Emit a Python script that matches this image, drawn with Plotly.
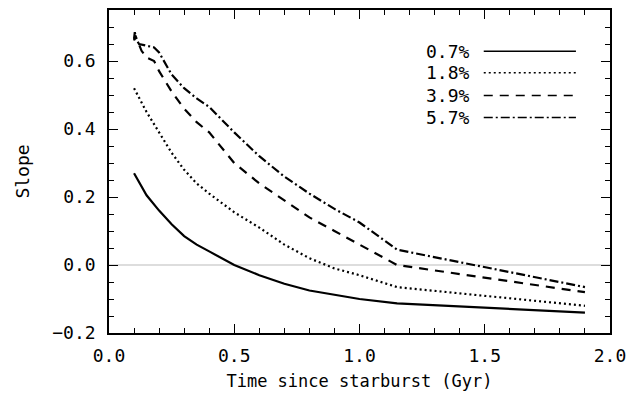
import plotly.graph_objects as go

# Data: time since starburst (Gyr) and slope for each burst fraction
t_07 = [0.10, 0.15, 0.20, 0.25, 0.30, 0.35, 0.40, 0.45, 0.50, 0.60, 0.70, 0.80, 0.90, 1.00, 1.15, 1.90]
s_07 = [0.27, 0.205, 0.16, 0.12, 0.085, 0.06, 0.04, 0.02, 0.0, -0.03, -0.055, -0.075, -0.088, -0.10, -0.113, -0.14]

t_18 = [0.10, 0.15, 0.20, 0.25, 0.30, 0.35, 0.40, 0.50, 0.60, 0.70, 0.80, 0.90, 1.00, 1.15, 1.90]
s_18 = [0.52, 0.45, 0.39, 0.33, 0.28, 0.24, 0.21, 0.155, 0.11, 0.06, 0.02, -0.01, -0.03, -0.065, -0.12]

t_39 = [0.10, 0.105, 0.13, 0.15, 0.18, 0.20, 0.25, 0.30, 0.35, 0.40, 0.50, 0.60, 0.70, 0.80, 0.90, 1.00, 1.15, 1.90]
s_39 = [0.66, 0.675, 0.63, 0.61, 0.60, 0.57, 0.51, 0.46, 0.42, 0.39, 0.30, 0.24, 0.19, 0.14, 0.10, 0.06, 0.0, -0.08]

t_57 = [0.10, 0.103, 0.108, 0.12, 0.15, 0.18, 0.20, 0.25, 0.30, 0.35, 0.40, 0.50, 0.60, 0.70, 0.80, 0.90, 1.00, 1.15, 1.90]
s_57 = [0.665, 0.685, 0.665, 0.65, 0.645, 0.64, 0.625, 0.56, 0.52, 0.49, 0.465, 0.39, 0.32, 0.26, 0.21, 0.165, 0.125, 0.045, -0.065]

labels = ["0.7%", "1.8%", "3.9%", "5.7%"]
dashes = ["solid", "2px,3px", "9px,7px", "9px,3px,2px,3px"]

FONT = "DejaVu Sans Mono"

fig = go.Figure()
series = [(t_07, s_07), (t_18, s_18), (t_39, s_39), (t_57, s_57)]
for (t, s), lab, d in zip(series, labels, dashes):
    fig.add_trace(go.Scatter(x=t, y=s, mode="lines", name=lab,
                             line=dict(color="black", width=2.2, dash=d),
                             showlegend=False))

# zero line
fig.add_shape(type="line", xref="paper", yref="y", x0=0, x1=1, y0=0, y1=0,
              line=dict(color="#bbbbbb", width=1), layer="below")

# legend (text left, line sample right)
row_y = [0.872, 0.806, 0.735, 0.667]
for lab, d, yy in zip(labels, dashes, row_y):
    fig.add_annotation(x=0.724, y=yy, xref="paper", yref="paper", text=lab,
                       showarrow=False, xanchor="right", yanchor="middle",
                       font=dict(family=FONT, size=18, color="black"))
    fig.add_shape(type="line", xref="paper", yref="paper", x0=0.748, x1=0.932,
                  y0=yy, y1=yy, line=dict(color="black", width=1.5, dash=d))

axis_common = dict(
    showline=True, linecolor="black", linewidth=1.5, mirror="ticks",
    ticks="inside", ticklen=9, tickwidth=1.2, tickcolor="black",
    showgrid=False, zeroline=False, automargin=False,
    tickfont=dict(family=FONT, size=18, color="black"),
)

fig.update_xaxes(range=[0, 2.0], dtick=0.5, tickformat=".1f", ticklabelstandoff=6,
                 minor=dict(dtick=0.1, ticks="inside", ticklen=5, tickcolor="black", tickwidth=1.2),
                 title=dict(text="Time since starburst (Gyr)", font=dict(family=FONT, size=17, color="black"), standoff=10),
                 **axis_common)
fig.update_yaxes(range=[-0.2, 0.75], tickvals=[-0.2, 0.0, 0.2, 0.4, 0.6],
                 ticktext=["\u22120.2", "0.0", "0.2", "0.4", "0.6"], ticklabelstandoff=8,
                 minor=dict(dtick=0.05, ticks="inside", ticklen=5, tickcolor="black", tickwidth=1.2),
                 title=dict(text="Slope", font=dict(family=FONT, size=18, color="black"), standoff=18),
                 **axis_common)

fig.update_layout(width=629, height=401, plot_bgcolor="white", paper_bgcolor="white",
                  margin=dict(l=109, r=19, t=10, b=68))

fig.write_html("out.html")
